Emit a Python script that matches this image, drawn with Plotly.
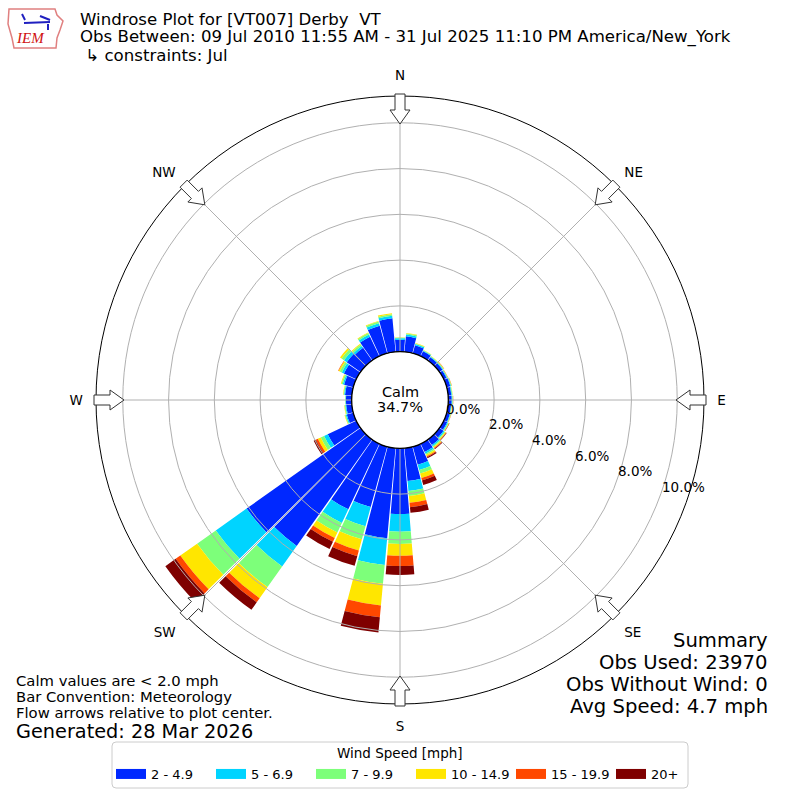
import plotly.graph_objects as go
import math

# wind directions (deg, meteorological) and speed bins
directions = list(range(0, 360, 10))
speed_bins = ["2 - 4.9", "5 - 6.9", "7 - 9.9", "10 - 14.9", "15 - 19.9", "20+"]
bin_colors = ["#0028ff", "#00d4ff", "#7dff7a", "#ffe600", "#ff4800", "#7f0000"]

# frequency (%) per direction for each speed bin
freq_2_5 = [0.52, 0.68, 0.37, 0.24, 0.18, 0.17, 0.14, 0.17, 0.14, 0.15, 0.13, 0.15,
            0.17, 0.22, 0.30, 0.40, 0.82, 1.44, 2.87, 3.95, 2.74, 3.17, 5.70, 6.10,
            1.38, 0.30, 0.25, 0.25, 0.30, 0.42, 0.60, 0.74, 0.68, 0.95, 1.25, 1.47]
freq_5_7 = [0.07, 0.08, 0.05, 0.03, 0.03, 0.03, 0.03, 0.03, 0.03, 0.03, 0.02, 0.03,
            0.04, 0.05, 0.06, 0.08, 0.24, 0.44, 0.77, 1.18, 0.87, 0.66, 1.10, 1.65,
            0.18, 0.05, 0.04, 0.02, 0.04, 0.06, 0.10, 0.15, 0.10, 0.10, 0.12, 0.11]
freq_7_10 = [0.03, 0.05, 0.03, 0.02, 0.02, 0.03, 0.02, 0.02, 0.02, 0.02, 0.02, 0.02,
             0.03, 0.04, 0.05, 0.06, 0.16, 0.22, 0.54, 0.82, 0.59, 0.46, 1.10, 1.00,
             0.16, 0.03, 0.03, 0.02, 0.03, 0.06, 0.10, 0.13, 0.08, 0.07, 0.07, 0.07]
freq_10_15 = [0.01, 0.02, 0.02, 0.01, 0.01, 0.02, 0.01, 0.01, 0.01, 0.01, 0.01, 0.01,
              0.02, 0.04, 0.05, 0.07, 0.20, 0.30, 0.51, 0.95, 0.50, 0.27, 0.60, 0.90,
              0.14, 0.02, 0.02, 0.00, 0.02, 0.03, 0.06, 0.08, 0.04, 0.03, 0.03, 0.05]
freq_15_20 = [0.00, 0.00, 0.00, 0.00, 0.00, 0.01, 0.01, 0.01, 0.00, 0.01, 0.00, 0.01,
              0.01, 0.02, 0.03, 0.04, 0.11, 0.19, 0.45, 0.52, 0.26, 0.18, 0.22, 0.25,
              0.10, 0.00, 0.00, 0.00, 0.00, 0.00, 0.02, 0.00, 0.00, 0.00, 0.00, 0.00]
freq_20p = [0.00, 0.00, 0.00, 0.00, 0.00, 0.00, 0.00, 0.00, 0.00, 0.00, 0.00, 0.00,
            0.01, 0.02, 0.03, 0.05, 0.21, 0.25, 0.39, 0.67, 0.44, 0.35, 0.40, 0.55,
            0.10, 0.00, 0.00, 0.00, 0.00, 0.00, 0.00, 0.00, 0.00, 0.00, 0.00, 0.00]
series = [freq_2_5, freq_5_7, freq_7_10, freq_10_15, freq_15_20, freq_20p]

radial_ticks = [0, 2, 4, 6, 8, 10]
compass_angles = [0, 45, 90, 135, 180, 225, 270, 315]
compass_labels = ["N", "NE", "E", "SE", "S", "SW", "W", "NW"]

W = H = 800
CX = CY = 400
R_OUT = 304
HOLE = 0.159
R_MAX = 11.17
RLABEL_ANGLE = 110  # compass angle of the radial tick labels
FONT = "DejaVu Sans"


def px(x, y):
    return x / W, 1 - y / H


def rad_px(v):
    hole_px = HOLE * R_OUT
    return hole_px + (R_OUT - hole_px) * v / R_MAX


def polar_pt(r, ang):
    a = math.radians(ang)
    return CX + r * math.sin(a), CY - r * math.cos(a)


def path_str(points):
    return "M " + " L ".join(f"{px(*p)[0]:.5f},{px(*p)[1]:.5f}" for p in points) + " Z"


fig = go.Figure()
for name, color, vals in zip(speed_bins, bin_colors, series):
    fig.add_trace(go.Barpolar(r=vals, theta=directions, width=9.4, name=name,
                              marker=dict(color=color, line=dict(width=0)),
                              showlegend=False, hoverinfo="skip"))
# legend entries drawn as wide line swatches
for name, color in zip(speed_bins, bin_colors):
    fig.add_trace(go.Scatterpolar(r=[None], theta=[None], mode="lines", name=name,
                                  line=dict(color=color, width=10)))

shapes = []
# grid circles above bars, like matplotlib
for v in radial_ticks[1:]:
    r = rad_px(v)
    x0, y1 = px(CX - r, CY - r)
    x1, y0 = px(CX + r, CY + r)
    shapes.append(dict(type="circle", xref="paper", yref="paper", x0=x0, x1=x1, y0=y0, y1=y1,
                       line=dict(color="#b0b0b0", width=1), layer="above"))
for ang in compass_angles:
    xa, ya = px(*polar_pt(rad_px(0), ang))
    xb, yb = px(*polar_pt(R_OUT, ang))
    shapes.append(dict(type="line", xref="paper", yref="paper", x0=xa, y0=ya, x1=xb, y1=yb,
                       line=dict(color="#b0b0b0", width=1), layer="above"))
# calm circle
r0 = rad_px(0)
x0, y1 = px(CX - r0, CY - r0)
x1, y0 = px(CX + r0, CY + r0)
shapes.append(dict(type="circle", xref="paper", yref="paper", x0=x0, x1=x1, y0=y0, y1=y1,
                   line=dict(color="black", width=1.3), fillcolor="white", layer="above"))

# flow arrows at the compass points, pointing to the centre
for ang in compass_angles:
    a = math.radians(ang)
    ux, uy = math.sin(a), -math.cos(a)
    vx, vy = math.cos(a), math.sin(a)
    pts = [(CX + r * ux + w * vx, CY + r * uy + w * vy)
           for r, w in [(306, 5), (290, 5), (290, 10), (276, 0), (290, -10), (290, -5), (306, -5)]]
    shapes.append(dict(type="path", xref="paper", yref="paper", path=path_str(pts),
                       fillcolor="white", line=dict(color="#333333", width=1), layer="above"))

# rough IEM logo
logo = [(9, 9), (55, 9), (57, 15), (63, 21), (60, 30), (57, 38), (56, 48), (14, 48), (12, 38), (8, 24)]
shapes.append(dict(type="path", xref="paper", yref="paper", path=path_str(logo),
                   line=dict(color="#e08080", width=1.5)))
for (xa, ya, xb, yb) in [(24, 23, 50, 22), (40, 16, 50, 20), (22, 14, 25, 20), (48, 24, 48, 30)]:
    a0 = px(xa, ya)
    b0 = px(xb, yb)
    shapes.append(dict(type="line", xref="paper", yref="paper", x0=a0[0], y0=a0[1], x1=b0[0], y1=b0[1],
                       line=dict(color="#2020c0", width=2)))

# legend frame with rounded corners
lx0, ly0, lx1, ly1, rc = 112, 742, 688, 788, 4
frame = (f"M {px(lx0 + rc, ly0)[0]},{px(lx0 + rc, ly0)[1]} L {px(lx1 - rc, ly0)[0]},{px(lx1 - rc, ly0)[1]} "
         f"Q {px(lx1, ly0)[0]},{px(lx1, ly0)[1]} {px(lx1, ly0 + rc)[0]},{px(lx1, ly0 + rc)[1]} "
         f"L {px(lx1, ly1 - rc)[0]},{px(lx1, ly1 - rc)[1]} "
         f"Q {px(lx1, ly1)[0]},{px(lx1, ly1)[1]} {px(lx1 - rc, ly1)[0]},{px(lx1 - rc, ly1)[1]} "
         f"L {px(lx0 + rc, ly1)[0]},{px(lx0 + rc, ly1)[1]} "
         f"Q {px(lx0, ly1)[0]},{px(lx0, ly1)[1]} {px(lx0, ly1 - rc)[0]},{px(lx0, ly1 - rc)[1]} "
         f"L {px(lx0, ly0 + rc)[0]},{px(lx0, ly0 + rc)[1]} "
         f"Q {px(lx0, ly0)[0]},{px(lx0, ly0)[1]} {px(lx0 + rc, ly0)[0]},{px(lx0 + rc, ly0)[1]} Z")
shapes.append(dict(type="path", xref="paper", yref="paper", path=frame,
                   line=dict(color="#cccccc", width=1), fillcolor="white", layer="below"))

annotations = []


def add_text(text, x, y, size, xanchor="left", color="black", style="normal", family=FONT):
    ax, ay = px(x, y)
    annotations.append(dict(text=text, x=ax, y=ay, xref="paper", yref="paper", showarrow=False,
                            xanchor=xanchor, yanchor="middle", borderpad=0,
                            height=round(size * 1.22),
                            font=dict(size=size, color=color, family=family, style=style)))


# radial tick labels, left aligned just above the tick position
for v in radial_ticks:
    tx, ty = polar_pt(rad_px(v), RLABEL_ANGLE)
    add_text(f"{v:.1f}%", tx, ty - 8, 13.5)

add_text("IEM", 30, 38, 15, "center", "#d01010", "italic", "Liberation Serif")
add_text("Windrose Plot for [VT007] Derby\u00a0\u00a0VT", 79, 19, 16.6)
add_text("Obs Between: 09 Jul 2010 11:55 AM - 31 Jul 2025 11:10 PM America/New_York", 79, 37, 16.6)
add_text("\u00a0\u21b3 constraints: Jul", 79, 55, 16.6)
add_text("Calm", 400, 392, 14.5, "center")
add_text("34.7%", 400, 407, 14.5, "center")
add_text("Calm values are < 2.0 mph", 15, 680, 14.8)
add_text("Bar Convention: Meteorology", 15, 696, 14.8)
add_text("Flow arrows relative to plot center.", 15, 712, 14.8)
add_text("Generated: 28 Mar 2026", 15, 731, 19.3)
add_text("Summary", 769, 640, 19.6, "right")
add_text("Obs Used: 23970", 769, 662, 19.6, "right")
add_text("Obs Without Wind: 0", 769, 684, 19.6, "right")
add_text("Avg Speed: 4.7 mph", 769, 706, 19.6, "right")
add_text("Wind Speed [mph]", 400, 753, 13.5, "center")

fig.update_layout(
    width=W, height=H,
    margin=dict(l=0, r=0, t=0, b=0),
    paper_bgcolor="white",
    font=dict(family=FONT, size=13, color="black"),
    polar=dict(
        domain=dict(x=[(CX - R_OUT) / W, (CX + R_OUT) / W], y=[(CY - R_OUT) / H, (CY + R_OUT) / H]),
        hole=HOLE,
        bgcolor="white",
        barmode="stack",
        angularaxis=dict(rotation=90, direction="clockwise", tickmode="array",
                         tickvals=compass_angles, ticktext=compass_labels,
                         showgrid=False, linecolor="black", linewidth=1,
                         ticks="outside", ticklen=10, tickcolor="rgba(0,0,0,0)",
                         tickfont=dict(size=13.5)),
        radialaxis=dict(range=[0, R_MAX], showticklabels=False,
                        showgrid=False, showline=False, ticks=""),
    ),
    legend=dict(orientation="h", x=px(111, 0)[0], xanchor="left", y=px(0, 774)[1], yanchor="middle",
                font=dict(size=13), borderwidth=0,
                entrywidth=55, bgcolor="rgba(0,0,0,0)"),
    shapes=shapes,
    annotations=annotations,
)

fig.write_html("out.html", config={"displayModeBar": False},
               post_script="document.body.style.margin='0px';")
